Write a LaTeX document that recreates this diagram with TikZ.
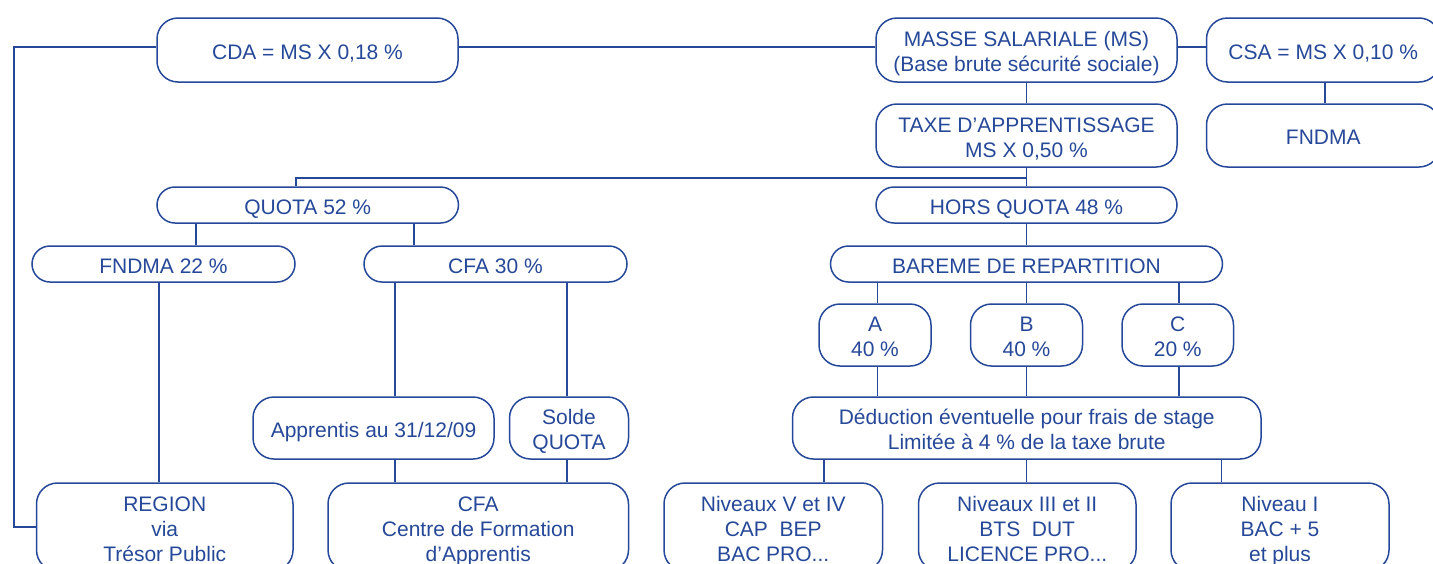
\documentclass[tikz,border=0pt]{standalone}
\usepackage{fontspec}
\setmainfont{Liberation Sans}
\definecolor{bl}{RGB}{38,72,152}
\newcommand\bt[1]{\begin{tabular}{@{}c@{}}\rule{0pt}{25.5pt}#1\end{tabular}}
\begin{document}
\begin{tikzpicture}[x=1pt,y=-1pt, line width=1.5pt, color=bl,
  box/.style={draw=bl, text=bl, rounded corners=21pt, inner sep=0pt,
    font=\fontsize{21}{25}\selectfont},
  pill/.style={box, rounded corners=18pt}]
\useasboundingbox (0,0) rectangle (1433,563);
\clip (0,0) rectangle (1433,563);
% top row
\node[box, minimum width=301, minimum height=64] (cda) at (307.5,50) {\bt{CDA = MS X 0,18 \%}};
\node[box, minimum width=301, minimum height=64] (ms) at (1026.5,50) {\bt{MASSE SALARIALE (MS)\\(Base brute sécurité sociale)}};
\node[box, minimum width=233.5, minimum height=64] (csa) at (1323.25,50) {\bt{CSA = MS X 0,10 \%}};
\node[box, minimum width=301, minimum height=63] (taxe) at (1026.5,135.5) {\bt{TAXE D’APPRENTISSAGE\\MS X 0,50 \%}};
\node[box, minimum width=233.5, minimum height=63] (fndmar) at (1323.25,135.5) {\bt{FNDMA}};
% quota level
\node[pill, minimum width=301.5, minimum height=36] (quota) at (307.75,205) {\bt{QUOTA 52 \%}};
\node[pill, minimum width=301, minimum height=36] (hors) at (1026.5,205) {\bt{HORS QUOTA 48 \%}};
\node[pill, minimum width=263, minimum height=36] (fndma22) at (163.5,264) {\bt{FNDMA 22 \%}};
\node[pill, minimum width=263, minimum height=36] (cfa30) at (495.5,264) {\bt{CFA 30 \%}};
\node[pill, minimum width=392, minimum height=36] (bareme) at (1026.5,264) {\bt{BAREME DE REPARTITION}};
% A B C
\node[box, minimum width=112, minimum height=62] (a) at (875,335) {\bt{A\\40 \%}};
\node[box, minimum width=112, minimum height=62] (b) at (1026.5,335) {\bt{B\\40 \%}};
\node[box, minimum width=111.5, minimum height=62] (c) at (1177.75,335) {\bt{C\\20 \%}};
% middle
\node[box, minimum width=241, minimum height=62] (appr) at (373.5,428) {\bt{Apprentis au 31/12/09}};
\node[box, minimum width=119, minimum height=62] (solde) at (569,428) {\bt{Solde\\QUOTA}};
\node[box, minimum width=468.5, minimum height=62] (deduc) at (1026.75,428) {\bt{Déduction éventuelle pour frais de stage\\Limitée à 4 \% de la taxe brute}};
% bottom
\node[box, minimum width=256.5, minimum height=88] (region) at (164.75,527) {\bt{REGION\\via\\Trésor Public}};
\node[box, minimum width=300.5, minimum height=88] (cfa) at (478.25,527) {\bt{CFA\\Centre de Formation\\d’Apprentis}};
\node[box, minimum width=218.5, minimum height=88] (nivV) at (773.25,527) {\bt{Niveaux V et IV\\CAP\ \ BEP\\BAC PRO...}};
\node[box, minimum width=217.5, minimum height=88] (nivIII) at (1027.25,527) {\bt{Niveaux III et II\\BTS\ \ DUT\\LICENCE PRO...}};
\node[box, minimum width=218, minimum height=88] (nivI) at (1280,527) {\bt{Niveau I\\BAC + 5\\et plus}};
% connectors
\draw ([yshift=3pt]cda.west) -| (region.west -| 14,0) -- (region.west);
\draw ([yshift=3pt]cda.east) -- ([yshift=3pt]ms.west);
\draw ([yshift=3pt]ms.east) -- ([yshift=3pt]csa.west);
\draw (ms.south) -- (taxe.north);
\draw ([xshift=1.5pt]csa.south) -- ([xshift=1.5pt]fndmar.north);
\draw (taxe.south) -- (hors.north);
\draw (taxe.south) ++(0,10) -| ([xshift=-11.75pt]quota.north);
\draw (196,0 |- quota.south) -- (196,0 |- fndma22.north);
\draw (414,0 |- quota.south) -- (414,0 |- cfa30.north);
\draw (159,0 |- fndma22.south) -- (159,0 |- region.north);
\draw (395,0 |- cfa30.south) -- (395,0 |- appr.north);
\draw (567,0 |- cfa30.south) -- (567,0 |- solde.north);
\draw (395,0 |- appr.south) -- (395,0 |- cfa.north);
\draw (567,0 |- solde.south) -- (567,0 |- cfa.north);
\draw (hors.south) -- (bareme.north);
\draw (877.5,0 |- bareme.south) -- (877.5,0 |- a.north);
\draw (b.north |- bareme.south) -- (b.north);
\draw (1179,0 |- bareme.south) -- (1179,0 |- c.north);
\draw (877.5,0 |- a.south) -- (877.5,0 |- deduc.north);
\draw (b.south) -- (b.south |- deduc.north);
\draw (1179,0 |- c.south) -- (1179,0 |- deduc.north);
\draw (824,0 |- deduc.south) -- (824,0 |- nivV.north);
\draw (1026.5,0 |- deduc.south) -- (1026.5,0 |- nivIII.north);
\draw (1221.5,0 |- deduc.south) -- (1221.5,0 |- nivI.north);
\end{tikzpicture}
\end{document}
